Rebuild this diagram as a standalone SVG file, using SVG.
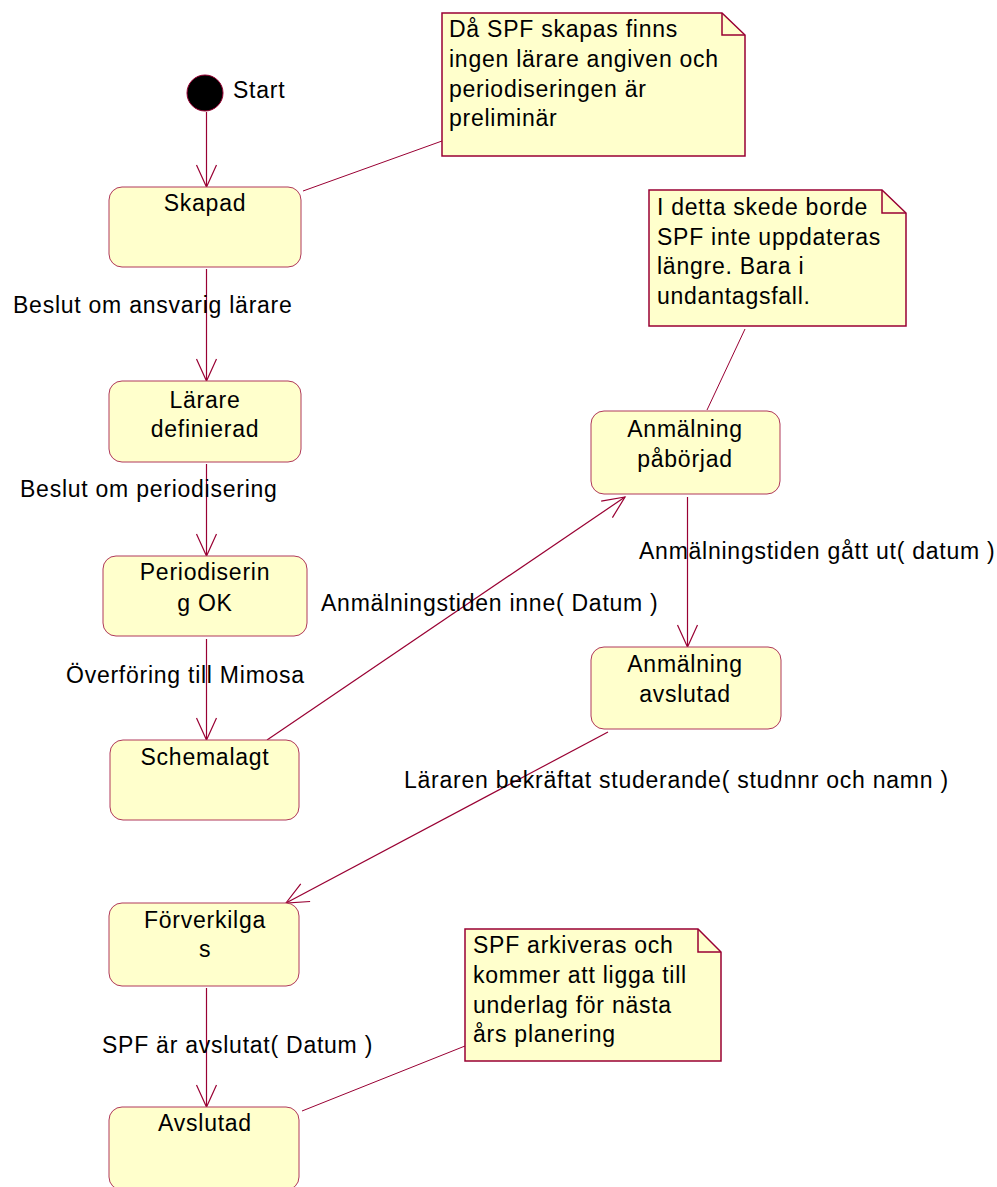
<svg xmlns="http://www.w3.org/2000/svg" width="997" height="1187" viewBox="0 0 997 1187">
  <style>
    text { font-family: "Liberation Sans", Arial, sans-serif; font-size: 23px; letter-spacing: 0.75px; fill: #000; }
    .state { fill: #FFFFCC; stroke: #B0385A; stroke-width: 1; }
    .note { fill: #FFFFCC; stroke: #990033; stroke-width: 1.5; }
    .fold { fill: none; stroke: #990033; stroke-width: 1.5; }
    .c { text-anchor: middle; }
    .edge { fill: none; stroke: #990033; stroke-width: 1.2; }
    .anchor { fill: none; stroke: #990033; stroke-width: 1; }
  </style>
  <defs>
    <marker id="open" viewBox="-24 -12 26 24" refX="0" refY="0" markerUnits="userSpaceOnUse" markerWidth="26" markerHeight="24" orient="auto" overflow="visible">
      <path d="M -22 -10 L 0 0 L -22 10" fill="none" stroke="#990033" stroke-width="1.2"/>
    </marker>
  </defs>

  <rect width="997" height="1187" fill="#FFFFFF"/>

  <!-- transitions and note anchors -->
  <g id="connectors">
    <line class="edge" x1="206.5" y1="112" x2="206.5" y2="187" marker-end="url(#open)"/>
    <line class="edge" x1="206.5" y1="269" x2="206.5" y2="381" marker-end="url(#open)"/>
    <line class="edge" x1="206.5" y1="464" x2="206.5" y2="556" marker-end="url(#open)"/>
    <line class="edge" x1="206.5" y1="639" x2="206.5" y2="740" marker-end="url(#open)"/>
    <line class="edge" x1="267" y1="740" x2="625" y2="497" marker-end="url(#open)"/>
    <line class="edge" x1="687.5" y1="497" x2="687.5" y2="647" marker-end="url(#open)"/>
    <line class="edge" x1="608" y1="732" x2="286" y2="903" marker-end="url(#open)"/>
    <line class="edge" x1="206.5" y1="988" x2="206.5" y2="1107" marker-end="url(#open)"/>

    <line class="anchor" x1="303" y1="191" x2="442" y2="141"/>
    <line class="anchor" x1="745" y1="329" x2="707" y2="410"/>
    <line class="anchor" x1="302" y1="1111" x2="465" y2="1046"/>

    <text x="13" y="313">Beslut om ansvarig lärare</text>
    <text x="20" y="497">Beslut om periodisering</text>
    <text x="66" y="683">Överföring till Mimosa</text>
    <text x="321" y="611">Anmälningstiden inne( Datum )</text>
    <text x="639" y="559">Anmälningstiden gått ut( datum )</text>
    <text x="404" y="788">Läraren bekräftat studerande( studnnr och namn )</text>
    <text x="102" y="1053">SPF är avslutat( Datum )</text>
  </g>

  <g id="start">
    <circle cx="205" cy="93" r="18" fill="#000000" stroke="#990033" stroke-width="1"/>
    <text x="233" y="98">Start</text>
  </g>

  <g id="skapad">
    <rect class="state" x="109" y="187" width="192" height="80" rx="13"/>
    <text class="c" x="205" y="211">Skapad</text>
  </g>

  <g id="larare-definierad">
    <rect class="state" x="109" y="381" width="192" height="81" rx="13"/>
    <text class="c" x="205" y="408">Lärare</text>
    <text class="c" x="205" y="437">definierad</text>
  </g>

  <g id="periodisering-ok">
    <rect class="state" x="103" y="556" width="204" height="80" rx="13"/>
    <text class="c" x="205" y="580">Periodiserin</text>
    <text class="c" x="205" y="611">g OK</text>
  </g>

  <g id="schemalagt">
    <rect class="state" x="110" y="740" width="189" height="80" rx="13"/>
    <text class="c" x="205" y="765">Schemalagt</text>
  </g>

  <g id="forverkilgas">
    <rect class="state" x="109" y="903" width="190" height="83" rx="13"/>
    <text class="c" x="205" y="928">Förverkilga</text>
    <text class="c" x="205" y="957">s</text>
  </g>

  <g id="avslutad">
    <rect class="state" x="109" y="1107" width="190" height="83" rx="13"/>
    <text class="c" x="205" y="1131">Avslutad</text>
  </g>

  <g id="anmalning-paborjad">
    <rect class="state" x="591" y="411" width="189" height="83" rx="13"/>
    <text class="c" x="685" y="437">Anmälning</text>
    <text class="c" x="685" y="467">påbörjad</text>
  </g>

  <g id="anmalning-avslutad">
    <rect class="state" x="591" y="647" width="190" height="82" rx="13"/>
    <text class="c" x="685" y="672">Anmälning</text>
    <text class="c" x="685" y="702">avslutad</text>
  </g>

  <g id="note-skapad">
    <path class="note" d="M 442 13 L 722 13 L 745 35 L 745 156 L 442 156 Z"/>
    <path class="fold" d="M 722 13 L 722 35 L 745 35"/>
    <text x="449" y="37">Då SPF skapas finns</text>
    <text x="449" y="67">ingen lärare angiven och</text>
    <text x="449" y="96.5">periodiseringen är</text>
    <text x="449" y="126">preliminär</text>
  </g>

  <g id="note-anmalning">
    <path class="note" d="M 649 190 L 882 190 L 906 213 L 906 326 L 649 326 Z"/>
    <path class="fold" d="M 882 190 L 882 213 L 906 213"/>
    <text x="657" y="215">I detta skede borde</text>
    <text x="657" y="244.5">SPF inte uppdateras</text>
    <text x="657" y="274">längre. Bara i</text>
    <text x="657" y="303.5">undantagsfall.</text>
  </g>

  <g id="note-arkiv">
    <path class="note" d="M 465 929 L 698 929 L 721 952 L 721 1061 L 465 1061 Z"/>
    <path class="fold" d="M 698 929 L 698 952 L 721 952"/>
    <text x="473" y="953">SPF arkiveras och</text>
    <text x="473" y="983">kommer att ligga till</text>
    <text x="473" y="1012.5">underlag för nästa</text>
    <text x="473" y="1042">års planering</text>
  </g>
</svg>
